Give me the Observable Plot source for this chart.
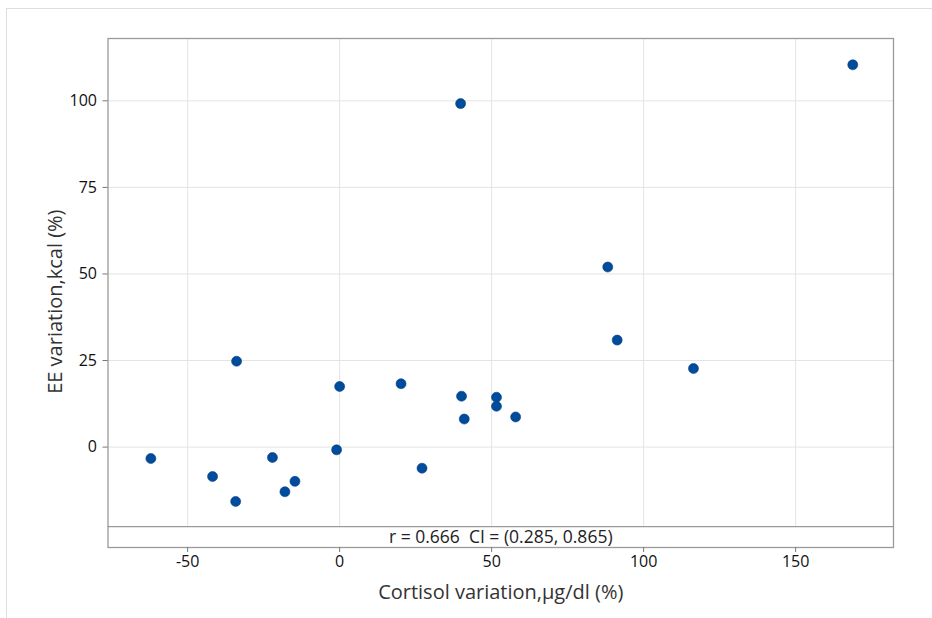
<!DOCTYPE html>
<html>
<head>
<meta charset="utf-8">
<script src="https://cdn.jsdelivr.net/npm/d3@7"></script>
<script src="https://cdn.jsdelivr.net/npm/@observablehq/plot@0.6"></script>
<style>
  html, body { margin: 0; padding: 0; background: #fff; }
  #wrap { position: relative; width: 932px; height: 618px; overflow: hidden; }
  #border { position: absolute; left: 6px; top: 8px; right: -2px; bottom: -2px; border-top: 1px solid #dedede; border-left: 1px solid #dedede; }
  #chart { position: absolute; left: 0; top: 0; }
  svg { font-family: "Open Sans", "Noto Sans", sans-serif; }
</style>
</head>
<body>
<div id="wrap"><div id="border"></div><div id="chart"></div></div>
<script>
// Data
const cortisolVariation = [-62.1, -41.8, -34.2, -33.9, -22.1, -18.0, -14.7, -1.0, 0.0, 20.2, 27.1, 39.8, 40.1, 41.0, 51.6, 51.6, 57.9, 88.2, 91.3, 116.4, 168.8];
const eeVariation       = [-3.3, -8.5, -15.7, 24.8, -3.0, -12.9, -9.9, -0.8, 17.5, 18.3, -6.1, 99.2, 14.7, 8.1, 14.4, 11.8, 8.7, 52.0, 30.9, 22.7, 110.4];
const xTicks = [-50, 0, 50, 100, 150];
const yTicks = [0, 25, 50, 75, 100];
const annotation = "r = 0.666  CI = (0.285, 0.865)";
const xLabel = "Cortisol variation,\u00b5g/dl (%)";
const yLabel = "EE variation,kcal (%)";

const points = cortisolVariation.map((x, i) => ({x, y: eeVariation[i]}));

const xDomain = [-76.2, 182.2];
const yDomain = [-29, 118];
const bandTop = -23;

const chart = Plot.plot({
  width: 932,
  height: 618,
  marginLeft: 107.5,
  marginRight: 39,
  marginTop: 38,
  marginBottom: 71,
  x: {domain: xDomain},
  y: {domain: yDomain},
  style: {fontFamily: "'Open Sans', 'Noto Sans', sans-serif", color: "#111"},
  marks: [
    Plot.ruleX(xTicks, {y1: bandTop, y2: yDomain[1], stroke: "#e3e3e3", strokeWidth: 1}),
    Plot.ruleY(yTicks, {stroke: "#e3e3e3", strokeWidth: 1}),
    Plot.ruleY([bandTop], {stroke: "#9a9a9a", strokeWidth: 1.3}),
    Plot.frame({stroke: "#9a9a9a", strokeWidth: 1.3}),
    Plot.axisX({ticks: xTicks, tickFormat: d => String(d), tickSize: 5, tickPadding: 3, fontSize: 16, fontWeight: 500, label: null, stroke: "#777", fill: "#111"}),
    Plot.axisY({ticks: yTicks, tickFormat: d => String(d), tickSize: 5, tickPadding: 6, fontSize: 16, fontWeight: 500, label: null, stroke: "#777", fill: "#111"}),
    Plot.text([annotation], {x: (xDomain[0] + xDomain[1]) / 2, y: (bandTop + yDomain[0]) / 2, text: d => d, fontSize: 17.5, fill: "#222"}),
    Plot.text([xLabel], {x: (xDomain[0] + xDomain[1]) / 2, y: yDomain[0], dy: 45, text: d => d, fontSize: 20, fill: "#333"}),
    Plot.text([yLabel], {x: xDomain[0], y: 42, dx: -52, rotate: -90, text: d => d, fontSize: 20, fill: "#333"}),
    Plot.dot(points, {x: "x", y: "y", r: 5, fill: "#004c9c", stroke: "#0a3f80", strokeWidth: 0.6})
  ]
});
document.getElementById("chart").appendChild(chart);
</script>
</body>
</html>
